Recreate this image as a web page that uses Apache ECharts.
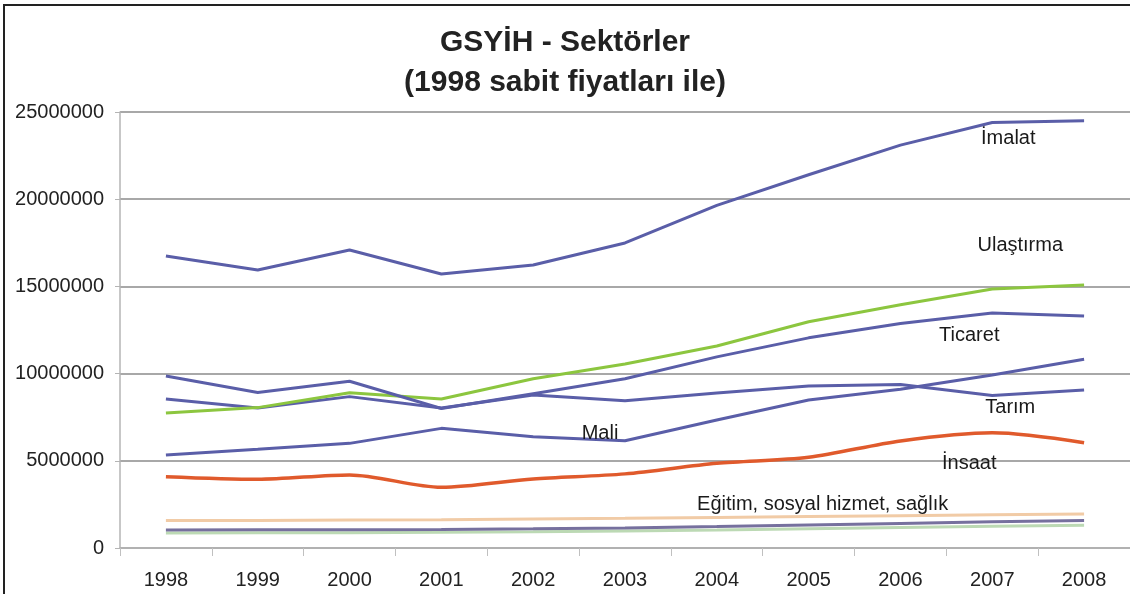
<!DOCTYPE html>
<html>
<head>
<meta charset="utf-8">
<title>GSYİH - Sektörler</title>
<script src="https://cdn.jsdelivr.net/npm/echarts@6/dist/echarts.min.js"></script>
<style>
  html, body { margin: 0; padding: 0; background: #fff; overflow: hidden; }
  #main { position: absolute; left: 0; top: 0; width: 1130px; height: 594px; }
  .frame { position: absolute; left: 3px; top: 4px; width: 1200px; height: 700px; border: 2px solid #222; pointer-events: none; }
</style>
</head>
<body>
<div id="main"></div>
<div class="frame"></div>
<script>
  // yillar ve sektor serileri (1998 sabit fiyatlariyla)
  const years = ['1998', '1999', '2000', '2001', '2002', '2003', '2004', '2005', '2006', '2007', '2008']
  const yTicks = [0, 5000000, 10000000, 15000000, 20000000, 25000000]

  const imalat = [16740000, 15940000, 17090000, 15710000, 16230000, 17490000, 19650000, 21400000, 23100000, 24400000, 24500000]
  const ulastirma = [7740000, 8050000, 8900000, 8540000, 9700000, 10550000, 11580000, 12970000, 13950000, 14850000, 15080000]
  const ticaret = [9860000, 8920000, 9560000, 8000000, 8850000, 9700000, 10960000, 12050000, 12870000, 13470000, 13300000]
  const tarim = [8550000, 8030000, 8680000, 8030000, 8770000, 8450000, 8890000, 9290000, 9370000, 8740000, 9060000]
  const mali = [5330000, 5660000, 6000000, 6860000, 6380000, 6150000, 7340000, 8490000, 9100000, 9920000, 10820000]
  const insaat = [4090000, 3940000, 4190000, 3480000, 3960000, 4250000, 4860000, 5200000, 6140000, 6610000, 6040000]
  const egitim = [1570000, 1580000, 1600000, 1620000, 1660000, 1700000, 1750000, 1800000, 1850000, 1900000, 1950000]
  const seri8 = [1030000, 1040000, 1050000, 1060000, 1100000, 1150000, 1230000, 1320000, 1410000, 1500000, 1570000]
  const seri9 = [860000, 870000, 880000, 900000, 930000, 980000, 1030000, 1100000, 1170000, 1240000, 1300000]

  // cizgi uzerine yazilan etiketler: [yazi, yil, deger, x kaydirma]
  const notes = {
    imalat: ['İmalat', '2007', 23510000, 16],
    ulastirma: ['Ulaştırma', '2007', 17370000, 28],
    ticaret: ['Ticaret', '2007', 12210000, -23],
    tarim: ['Tarım', '2007', 8030000, 18],
    mali: ['Mali', '2003', 6590000, -25],
    insaat: ['İnsaat', '2007', 4870000, -23],
    egitim: ['Eğitim, sosyal hizmet, sağlık', '2005', 2520000, 14]
  }

  const FONT = '"Liberation Sans", Arial, sans-serif'
  const BLUE = '#5a5ea8'

  function note(key) {
    if (!notes[key]) return undefined
    const n = notes[key]
    return {
      silent: true,
      symbol: 'circle',
      symbolSize: 0,
      animation: false,
      label: {
        show: true,
        position: 'inside',
        offset: [n[3], 0],
        formatter: n[0],
        color: '#1a1a1a',
        fontFamily: FONT,
        fontSize: 20
      },
      data: [{ coord: [n[1], n[2]] }]
    }
  }

  function line(name, data, color, width, key, smooth) {
    return {
      name: name,
      type: 'line',
      data: data,
      symbol: 'none',
      smooth: smooth || false,
      lineStyle: { color: color, width: width },
      itemStyle: { color: color },
      markPoint: note(key)
    }
  }

  const chart = echarts.init(document.getElementById('main'), null, { renderer: 'canvas' })
  chart.setOption({
    animation: false,
    backgroundColor: '#fff',
    title: {
      text: 'GSYİH - Sektörler\n(1998 sabit fiyatları ile)',
      left: 'center',
      top: 18,
      textStyle: {
        fontFamily: FONT,
        fontSize: 30,
        fontWeight: 'bold',
        lineHeight: 40,
        color: '#222'
      }
    },
    grid: {
      left: 120,
      right: -20,
      top: 112,
      bottom: 46
    },
    xAxis: {
      type: 'category',
      data: years,
      boundaryGap: true,
      axisLine: { lineStyle: { color: '#b4b4b4', width: 1.5 } },
      axisTick: { show: true, length: 8, lineStyle: { color: '#c0c0c0' } },
      axisLabel: { margin: 22, color: '#222', fontFamily: FONT, fontSize: 20 }
    },
    yAxis: {
      type: 'value',
      min: yTicks[0],
      max: yTicks[yTicks.length - 1],
      interval: yTicks[1] - yTicks[0],
      axisLine: { show: true, lineStyle: { color: '#b4b4b4', width: 1.5 } },
      axisTick: { show: true, length: 5, lineStyle: { color: '#b4b4b4' } },
      splitLine: { lineStyle: { color: '#a8a8a8', width: 2 } },
      axisLabel: {
        margin: 16,
        color: '#222',
        fontFamily: FONT,
        fontSize: 20,
        formatter: v => String(v)
      }
    },
    series: [
      line('Seri 9', seri9, '#bcd9b4', 3),
      line('Seri 8', seri8, '#76709e', 3),
      line('Eğitim, sosyal hizmet, sağlık', egitim, '#f1cba6', 3, 'egitim'),
      line('İnşaat', insaat, '#e05a2c', 3.5, 'insaat', 0.3),
      line('Mali', mali, BLUE, 3, 'mali'),
      line('Tarım', tarim, BLUE, 3, 'tarim'),
      line('Ulaştırma', ulastirma, '#8cc63f', 3, 'ulastirma'),
      line('Ticaret', ticaret, BLUE, 3, 'ticaret'),
      line('İmalat', imalat, BLUE, 3, 'imalat')
    ]
  })

  window.addEventListener('resize', () => chart.resize())
</script>
</body>
</html>
